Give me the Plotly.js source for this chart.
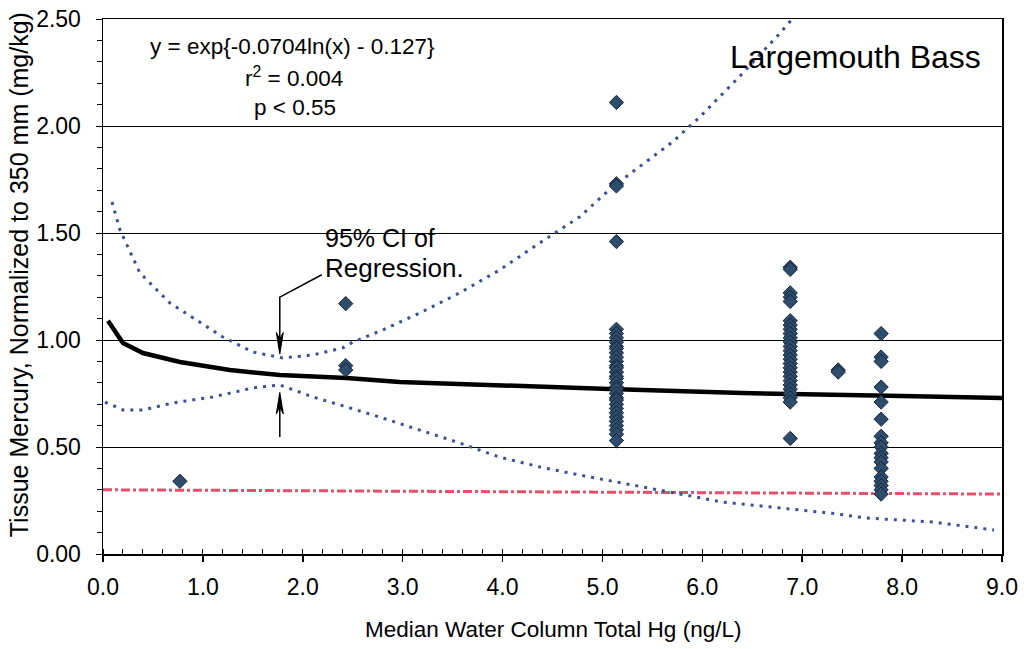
<!DOCTYPE html>
<html>
<head>
<meta charset="utf-8">
<script src="https://cdn.plot.ly/plotly-3.0.1.min.js"></script>
<style>
  html, body { margin: 0; padding: 0; background: #fff; }
  #chart { width: 1024px; height: 649px; }
</style>
</head>
<body>
<div id="chart"></div>
<script>
// Fitted power-law regression (mg/kg vs ng/L)
var fitX = [0.05, 0.2, 0.4, 0.77, 1.27, 1.77, 2.44, 2.97, 5.07, 6.4, 8.0, 9.0];
var fitY = [1.09, 0.986, 0.939, 0.897, 0.86, 0.836, 0.822, 0.804, 0.771, 0.752, 0.738, 0.729];

// Upper and lower 95% confidence limits of the regression
var upperX = [0.09, 0.17, 0.37, 0.67, 1.2, 1.5, 1.8, 2.1, 2.4, 2.5, 2.8, 3.17, 3.57, 3.97, 4.37, 4.77, 5.1, 5.7, 5.97, 6.37, 6.77, 6.9];
var upperY = [1.645, 1.514, 1.313, 1.173, 1.014, 0.944, 0.916, 0.93, 0.963, 0.99, 1.047, 1.126, 1.22, 1.327, 1.453, 1.575, 1.715, 1.925, 2.04, 2.23, 2.43, 2.5];
var lowerX = [0.02, 0.2, 0.4, 0.7, 1.1, 1.5, 1.77, 2.1, 2.44, 2.77, 3.17, 3.57, 3.97, 4.37, 4.77, 6.2, 7.3, 7.64, 8.3, 8.92];
var lowerY = [0.71, 0.673, 0.673, 0.706, 0.734, 0.776, 0.79, 0.734, 0.687, 0.64, 0.579, 0.519, 0.453, 0.407, 0.369, 0.243, 0.19, 0.168, 0.15, 0.112];

// Reference criterion line
var criterionX = [0.0, 9.0];
var criterionY = [0.30, 0.28];

// Median water-column total Hg per site, and fish tissue Hg at each site
var siteHg = [0.77, 2.43, 5.14, 6.88, 7.36, 7.79];
var fishHg = [
  [0.34],
  [1.17, 0.88, 0.86],
  [2.11, 1.73, 1.72, 1.46, 1.05, 1.03, 1.01, 0.99, 0.97, 0.96, 0.94, 0.92, 0.90, 0.88, 0.87, 0.85, 0.83, 0.82, 0.80, 0.78, 0.77, 0.75, 0.73, 0.72, 0.70, 0.68, 0.66, 0.64, 0.62, 0.60, 0.58, 0.56, 0.53],
  [1.34, 1.33, 1.22, 1.20, 1.18, 1.09, 1.07, 1.05, 1.03, 1.01, 0.99, 0.97, 0.95, 0.93, 0.91, 0.89, 0.87, 0.85, 0.83, 0.81, 0.79, 0.77, 0.75, 0.73, 0.71, 0.54],
  [0.86, 0.85],
  [1.03, 0.92, 0.90, 0.78, 0.71, 0.63, 0.55, 0.52, 0.50, 0.47, 0.45, 0.43, 0.40, 0.36, 0.34, 0.32, 0.30, 0.28]
];

// Axis tick values and labels
var xTicks = [0, 1, 2, 3, 4, 5, 6, 7, 8, 9];
var xTickText = ["0.0", "1.0", "2.0", "3.0", "4.0", "5.0", "6.0", "7.0", "8.0", "9.0"];
var yTicks = [0, 0.5, 1.0, 1.5, 2.0, 2.5];
var yTickText = ["0.00", "0.50", "1.00", "1.50", "2.00", "2.50"];

// Flatten fish observations into x/y pairs
var ptsX = [], ptsY = [];
siteHg.forEach(function (x, i) {
  fishHg[i].forEach(function (y) { ptsX.push(x); ptsY.push(y); });
});

var FONT = "Liberation Sans, Arial, sans-serif";
var ciLine = { color: "#3d4f96", width: 3, dash: "3px,6px" };

var traces = [
  { x: criterionX, y: criterionY, mode: "lines", hoverinfo: "skip",
    line: { color: "#e4506a", width: 3, dash: "dashdot" } },
  { x: upperX, y: upperY, mode: "lines", line: ciLine, hoverinfo: "skip" },
  { x: lowerX, y: lowerY, mode: "lines", line: ciLine, hoverinfo: "skip" },
  { x: fitX, y: fitY, mode: "lines", line: { color: "#000", width: 4.5 }, hoverinfo: "skip" },
  { x: ptsX, y: ptsY, mode: "markers",
    marker: { symbol: "diamond", size: 11, color: "#2e4d6c",
              line: { color: "#15243a", width: 1 } } }
];

// Pointer from the CI label to both confidence limits
var arrowX = 1.77;
var shapes = [
  { type: "path", xref: "x", yref: "y",
    path: "M 2.19,1.305 L " + arrowX + ",1.2 L " + arrowX + ",0.97",
    line: { color: "#000", width: 1.5 } },
  { type: "path", xref: "x", yref: "y", fillcolor: "#000",
    path: "M 1.735,1.035 L " + arrowX + ",0.935 L 1.805,1.035 L " + arrowX + ",1.005 Z",
    line: { color: "#000", width: 1 } },
  { type: "line", xref: "x", yref: "y", x0: arrowX, y0: 0.547, x1: arrowX, y1: 0.72,
    line: { color: "#000", width: 1.5 } },
  { type: "path", xref: "x", yref: "y", fillcolor: "#000",
    path: "M 1.735,0.655 L " + arrowX + ",0.755 L 1.805,0.655 L " + arrowX + ",0.685 Z",
    line: { color: "#000", width: 1 } }
];

var layout = {
  width: 1024, height: 649,
  margin: { l: 103, r: 22, t: 19, b: 95 },
  paper_bgcolor: "#fff", plot_bgcolor: "#fff",
  showlegend: false,
  font: { family: FONT, color: "#000" },
  xaxis: {
    range: [0, 9], tickvals: xTicks, ticktext: xTickText,
    showgrid: false, zeroline: false,
    showline: true, linecolor: "#000", linewidth: 1.5, mirror: true,
    ticks: "outside", ticklen: 6, tickwidth: 1.5, tickcolor: "#000",
    ticklabelstandoff: 6,
    minor: { dtick: 0.2, ticks: "inside", ticklen: 5, tickcolor: "#000", tickwidth: 1 },
    tickfont: { size: 23, family: FONT }
  },
  yaxis: {
    range: [0, 2.5], tickvals: yTicks, ticktext: yTickText,
    showgrid: true, gridcolor: "#000", gridwidth: 1, zeroline: false,
    showline: true, linecolor: "#000", linewidth: 1.5, mirror: true,
    ticks: "outside", ticklen: 6, tickwidth: 1, tickcolor: "#000",
    ticklabelstandoff: 10,
    minor: { dtick: 0.1, ticks: "outside", ticklen: 5, tickcolor: "#000", tickwidth: 1, showgrid: false },
    tickfont: { size: 23, family: FONT }
  },
  shapes: shapes,
  annotations: [
    { xref: "paper", yref: "paper", x: 0.5006, y: -0.142, xanchor: "center", yanchor: "middle",
      text: "Median Water Column Total Hg (ng/L)", showarrow: false, font: { size: 22.5, family: FONT } },
    { xref: "paper", yref: "paper", x: -0.094, y: 0.522, xanchor: "center", yanchor: "middle",
      textangle: -90, text: "Tissue Mercury, Normalized to 350 mm (mg/kg)",
      showarrow: false, font: { size: 25, family: FONT } },
    { xref: "paper", yref: "paper", x: 0.211, y: 0.9495, xanchor: "center", yanchor: "middle",
      text: "y = exp{-0.0704ln(x) - 0.127}", showarrow: false, font: { size: 22.5, family: FONT } },
    { xref: "paper", yref: "paper", x: 0.2125, y: 0.8916, xanchor: "center", yanchor: "middle",
      text: "r<sup>2</sup> = 0.004", showarrow: false, font: { size: 22.5, family: FONT } },
    { xref: "paper", yref: "paper", x: 0.2136, y: 0.8355, xanchor: "center", yanchor: "middle",
      text: "p &lt; 0.55", showarrow: false, font: { size: 22.5, family: FONT } },
    { xref: "paper", yref: "paper", x: 0.8365, y: 0.929, xanchor: "center", yanchor: "middle",
      text: "Largemouth Bass", showarrow: false, font: { size: 32, family: FONT } },
    { xref: "x", yref: "y", x: 2.2, y: 1.477, xanchor: "left", yanchor: "middle",
      text: "95% CI of", showarrow: false, font: { size: 25, family: FONT } },
    { xref: "x", yref: "y", x: 2.2, y: 1.336, xanchor: "left", yanchor: "middle",
      text: "Regression.", showarrow: false, font: { size: 26, family: FONT } }
  ]
};

Plotly.newPlot("chart", traces, layout, { staticPlot: true });
</script>
</body>
</html>
